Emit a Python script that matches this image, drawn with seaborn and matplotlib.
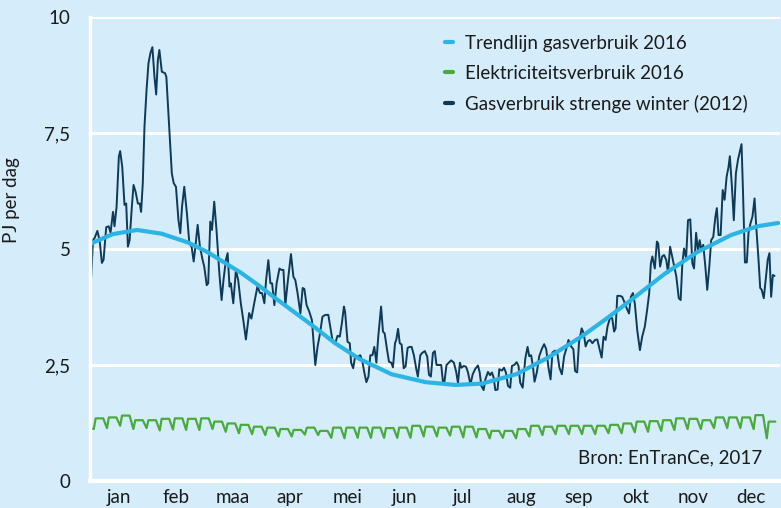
import numpy as np
import pandas as pd
import matplotlib.pyplot as plt
from matplotlib.lines import Line2D
import seaborn as sns

gas_jan = [(0, 3.9), (1.6, 5.19), (2.5, 5.24), (3.9, 5.39), (5.1, 5.19), (6.3, 4.70), (7.2, 4.77), (8.6, 5.47),
           (9.9, 5.49), (10.9, 5.35), (12.2, 5.80), (13.0, 5.49), (14.1, 5.91), (15.3, 6.99), (16.0, 7.11),
           (17.1, 6.77), (18.3, 5.95), (19.2, 5.98), (20.1, 5.05), (21.0, 5.19), (22.2, 5.91), (23.1, 6.38),
           (24.2, 6.23), (25.4, 5.98), (26.4, 5.98), (27.1, 5.80), (28.0, 6.42), (28.9, 7.64), (30.0, 8.43)]
gas_feb = [(31.0, 9.00), (32.1, 9.23), (33.1, 9.35), (34.2, 8.71), (35.1, 8.33), (36.0, 9.07), (36.8, 9.29),
           (38.1, 8.82), (39.8, 8.79), (40.5, 8.71), (42.1, 7.56), (43.4, 6.63), (44.4, 6.42), (45.6, 6.34),
           (46.9, 5.63), (47.9, 5.34), (48.8, 5.91), (50.0, 6.34), (51.4, 5.77), (52.7, 5.12), (53.9, 5.05),
           (55.0, 4.73), (55.9, 5.05), (57.1, 5.52), (58.3, 5.05), (59.7, 4.77)]
gas_maa = [(60.6, 4.62), (61.9, 4.22), (62.7, 4.26), (63.8, 5.59), (64.7, 5.41), (65.9, 6.02), (67.1, 5.41),
           (68.6, 4.48), (69.8, 3.90), (70.8, 4.33), (72.1, 4.77), (73.0, 4.91), (74.0, 4.19), (74.7, 4.26),
           (76.0, 3.83), (77.4, 4.55), (78.6, 4.33), (80.0, 3.83), (81.3, 3.47), (82.7, 3.05), (84.4, 3.62),
           (85.6, 3.50), (87.1, 3.83), (88.8, 4.19), (90.2, 4.05)]
gas_apr = [(91.3, 4.05), (92.5, 3.83), (93.4, 4.33), (94.6, 4.76), (95.7, 4.26), (96.6, 4.26), (97.8, 3.79),
           (99.0, 4.26), (100.5, 4.58), (101.5, 4.55), (102.6, 4.55), (103.6, 3.79), (104.8, 4.26), (106.6, 4.89),
           (107.9, 4.40), (108.9, 4.33), (110.1, 4.05), (111.6, 3.61), (112.8, 4.16), (113.7, 4.14), (114.9, 3.79),
           (116.3, 3.65), (117.7, 3.47), (118.6, 2.97), (119.5, 2.50), (120.7, 2.89)]
gas_mei = [(122.0, 3.18), (123.3, 3.54), (124.8, 3.58), (126.4, 3.58), (127.4, 3.33), (128.6, 3.04), (130.1, 2.97),
           (131.3, 3.13), (132.5, 3.11), (133.6, 3.40), (134.7, 3.76), (135.3, 3.65), (136.6, 3.00), (137.8, 2.97),
           (138.5, 2.55), (139.6, 2.43), (140.6, 2.68), (142.1, 2.68), (143.4, 2.71), (144.5, 2.57), (145.6, 2.32),
           (146.6, 2.13), (147.7, 2.25), (148.7, 2.71), (149.8, 2.71), (150.8, 2.89), (151.9, 2.55)]
gas_jun = [(152.9, 3.11), (154.4, 3.76), (155.4, 3.22), (156.3, 3.18), (157.6, 2.82), (158.6, 2.57), (159.8, 2.55),
           (160.7, 2.45), (161.8, 2.97), (162.5, 3.05), (163.4, 3.28), (164.3, 2.97), (165.3, 2.94), (166.4, 2.43),
           (167.4, 2.47), (168.5, 2.87), (169.6, 2.89), (170.6, 2.89), (171.8, 2.71), (173.0, 2.43), (173.9, 2.25),
           (175.2, 2.71), (176.2, 2.76), (177.6, 2.80), (178.9, 2.68), (179.8, 2.29), (180.8, 2.25), (181.9, 2.76)]
gas_jul = [(182.9, 2.80), (183.8, 2.50), (185.0, 2.50), (186.3, 2.50), (187.2, 2.14), (188.0, 2.14), (189.1, 2.50),
           (190.3, 2.55), (191.6, 2.60), (193.0, 2.55), (194.2, 2.36), (195.2, 2.11), (196.2, 2.55), (197.0, 2.44),
           (198.3, 2.48), (199.5, 2.46), (200.5, 2.34), (201.8, 2.08), (203.0, 2.30), (204.4, 2.42), (205.8, 2.49),
           (206.7, 2.34), (207.6, 2.05), (208.8, 1.96), (209.7, 2.19), (211.1, 2.35), (212.2, 2.28)]
gas_aug = [(213.2, 2.34), (214.1, 2.23), (215.0, 1.96), (216.2, 1.97), (217.1, 2.41), (218.5, 2.38), (219.6, 2.44),
           (220.6, 2.34), (221.7, 2.05), (222.9, 2.01), (223.8, 2.48), (225.0, 2.50), (226.3, 2.56), (227.3, 2.48),
           (228.2, 2.12), (229.5, 2.01), (230.9, 2.64), (232.1, 2.89), (233.0, 2.69), (234.0, 2.71), (234.9, 2.48),
           (235.8, 2.14), (237.0, 2.34), (238.3, 2.69), (239.7, 2.85), (240.9, 2.95), (242.0, 2.84), (243.2, 2.44)]
gas_sep = [(244.3, 2.19), (245.3, 2.77), (246.7, 2.81), (248.0, 2.73), (249.0, 2.44), (250.3, 2.30), (251.5, 2.69),
           (252.6, 2.84), (253.8, 3.04), (255.2, 2.90), (256.4, 2.84), (257.3, 2.37), (258.4, 2.34), (259.4, 2.99),
           (260.8, 3.29), (261.9, 3.18), (262.9, 2.90), (264.0, 3.01), (265.2, 3.04), (266.5, 2.97), (267.9, 3.04),
           (269.1, 3.05), (270.3, 2.84), (271.4, 2.66), (272.4, 3.11), (273.5, 3.04)]
gas_okt = [(274.5, 3.33), (275.8, 3.51), (277.0, 3.51), (278.0, 3.22), (278.8, 3.29), (279.7, 3.99), (281.1, 3.99),
           (282.3, 3.97), (283.8, 3.82), (284.8, 3.71), (285.9, 3.61), (286.9, 3.97), (288.0, 4.05), (289.0, 3.82),
           (290.3, 3.24), (291.7, 2.82), (292.9, 3.11), (294.3, 3.33), (295.5, 3.68), (296.6, 4.04), (297.5, 4.69),
           (298.3, 4.84), (299.6, 4.58), (300.7, 5.16), (301.4, 5.12), (302.4, 4.62), (303.5, 4.84), (304.5, 4.87)]
gas_nov = [(305.7, 4.76), (306.6, 4.48), (307.7, 5.05), (308.8, 4.84), (309.8, 4.66), (311.0, 4.41), (312.3, 3.94),
           (313.3, 3.90), (314.2, 4.69), (315.1, 5.01), (316.2, 4.80), (317.2, 5.62), (318.4, 5.64), (319.5, 4.69),
           (320.4, 4.58), (321.5, 5.35), (322.5, 4.95), (323.4, 5.19), (324.3, 4.98), (325.3, 5.09), (326.4, 4.62),
           (327.4, 4.12), (328.5, 4.62), (329.5, 5.19), (330.6, 5.26), (331.7, 5.69), (332.5, 5.88), (333.4, 5.30),
           (334.5, 5.30)]
gas_dec = [(335.6, 6.27), (336.6, 6.06), (337.7, 6.56), (338.7, 6.77), (339.4, 7.00), (340.5, 6.34), (341.5, 5.62),
           (342.6, 6.63), (343.7, 6.92), (344.5, 7.06), (345.6, 7.26), (346.4, 6.20), (347.4, 4.71), (348.4, 4.71),
           (349.3, 5.35), (350.4, 5.56), (351.4, 5.70), (352.5, 6.09), (353.5, 5.42), (354.6, 4.77), (355.5, 4.16),
           (356.3, 4.12), (357.4, 3.94), (358.5, 4.37), (359.5, 4.77), (360.4, 4.91), (361.3, 3.97), (362.2, 4.44),
           (363.1, 4.42)]

# trendlijn gasverbruik 2016
trend_dag = [0, 12, 25, 38, 52, 62, 70, 80, 90, 97, 108, 118, 130, 143, 160, 178, 194, 208, 226, 243, 261, 274,
             287, 305, 322, 340, 354, 365]
trend_pj = [5.11, 5.32, 5.41, 5.33, 5.14, 4.94, 4.74, 4.49, 4.20, 3.98, 3.65, 3.35, 2.97, 2.63, 2.30, 2.13, 2.07,
            2.10, 2.30, 2.66, 3.12, 3.50, 3.90, 4.47, 4.93, 5.30, 5.49, 5.56]

# elektriciteit 2016: per week het zondagdal en het niveau op werkdagen
elek_dal = [1.12, 1.14, 1.19, 1.12, 1.14, 1.09, 1.11, 1.10, 1.10, 1.12, 1.06, 1.03, 1.01, 0.99, 0.96, 0.96, 1.00,
            0.99, 0.93, 0.92, 0.93, 0.93, 0.93, 0.93, 0.93, 0.96, 0.96, 0.98, 0.94, 0.94, 0.92, 0.93, 0.92, 0.96,
            0.99, 1.01, 1.01, 1.01, 1.01, 1.03, 1.03, 1.05, 1.06, 1.08, 1.10, 1.12, 1.12, 1.14, 1.14, 1.14, 1.12,
            0.92]
elek_top = [1.35, 1.37, 1.41, 1.31, 1.31, 1.34, 1.35, 1.34, 1.35, 1.28, 1.24, 1.21, 1.17, 1.15, 1.12, 1.10, 1.15,
            1.08, 1.15, 1.15, 1.15, 1.15, 1.14, 1.15, 1.19, 1.17, 1.15, 1.17, 1.17, 1.12, 1.08, 1.08, 1.12, 1.19,
            1.17, 1.19, 1.19, 1.19, 1.19, 1.21, 1.24, 1.28, 1.29, 1.31, 1.35, 1.34, 1.31, 1.37, 1.37, 1.37, 1.42,
            1.28]
elek_start = 1.14

maanden = ['jan', 'feb', 'maa', 'apr', 'mei', 'jun', 'jul', 'aug', 'sep', 'okt', 'nov', 'dec']
maand_start = [0, 31, 60, 91, 121, 152, 182, 213, 244, 274, 305, 335, 366]

y_ticks = [0, 2.5, 5, 7.5, 10]
y_labels = ['0', '2,5', '5', '7,5', '10']

bg = '#d5ecfa'
c_trend = '#2bb5e6'
c_elek = '#4aaa3c'
c_gas = '#0c3a58'
c_text = '#1a1a1a'
fs = 13.5

sns.set_style('white')
plt.rcParams['font.family'] = ['Lato', 'DejaVu Sans']
plt.rcParams['font.size'] = fs

gas = pd.DataFrame(gas_jan + gas_feb + gas_maa + gas_apr + gas_mei + gas_jun + gas_jul + gas_aug
                   + gas_sep + gas_okt + gas_nov + gas_dec, columns=['dag', 'pj'])
trend = pd.DataFrame({'dag': trend_dag, 'pj': trend_pj})

# weken lopen van zondag (dal) via maandag-vrijdag (werkdagen) naar de volgende zondag
e_dag, e_pj = [0], [elek_start]
for k, (dal, top) in enumerate(zip(elek_dal, elek_top)):
    zondag = 2 + 7 * k
    e_dag += [zondag, zondag + 1, min(zondag + 5, 363.5)]
    e_pj += [dal, top, top]
elek = pd.DataFrame({'dag': e_dag, 'pj': e_pj})

fig, ax = plt.subplots(figsize=(7.81, 5.08), dpi=100)
fig.patch.set_facecolor(bg)
ax.set_facecolor(bg)
fig.subplots_adjust(left=90 / 781, right=780 / 781, bottom=27 / 508, top=491 / 508)

sns.lineplot(data=gas, x='dag', y='pj', ax=ax, color=c_gas, lw=1.4, estimator=None, sort=False)
sns.lineplot(data=trend, x='dag', y='pj', ax=ax, color=c_trend, lw=3, estimator=None, sort=False)
sns.lineplot(data=elek, x='dag', y='pj', ax=ax, color=c_elek, lw=1.6, estimator=None, sort=False)

ax.set_xlim(0, 366)
ax.set_ylim(0, 10)
ax.set_xlabel('')
ax.set_ylabel('')

ax.yaxis.grid(True, color='white', lw=2.2)
ax.set_axisbelow(True)
for s in ['top', 'right']:
    ax.spines[s].set_visible(False)
ax.spines['left'].set_color('white')
ax.spines['left'].set_linewidth(2.5)
ax.spines['bottom'].set_color('white')
ax.spines['bottom'].set_linewidth(3)

ax.set_yticks(y_ticks)
ax.set_yticklabels(y_labels)
ax.tick_params(axis='y', length=0, pad=14, labelsize=fs, labelcolor=c_text)

ax.set_xticks(maand_start[1:-1])
ax.set_xticklabels([])
ax.set_xticks([(a + b) / 2 for a, b in zip(maand_start[:-1], maand_start[1:])], minor=True)
ax.set_xticklabels(maanden, minor=True)
ax.tick_params(axis='x', which='major', length=5, width=1.6, color='#222222', direction='out')
ax.tick_params(axis='x', which='minor', length=0, pad=6, labelsize=fs, labelcolor=c_text)

handles = [Line2D([], [], color=c_trend, lw=3),
           Line2D([], [], color=c_elek, lw=3),
           Line2D([], [], color=c_gas, lw=3)]
labels = ['Trendlijn gasverbruik 2016', 'Elektriciteitsverbruik 2016', 'Gasverbruik strenge winter (2012)']
ax.legend(handles, labels, loc='upper left', bbox_to_anchor=(0.5145, 0.962), frameon=False,
          borderaxespad=0, borderpad=0, handlelength=0.42, handletextpad=0.62, labelspacing=0.69,
          fontsize=fs, labelcolor=c_text)

ax.text(0.974, 0.039, 'Bron: EnTranCe, 2017', transform=ax.transAxes, ha='right', va='baseline',
        fontsize=fs, color=c_text)
fig.text(12 / 781, 1 - 200 / 508, 'PJ per dag', rotation=90, ha='center', va='center',
         fontsize=fs, color=c_text)

fig.savefig('out.png', dpi=100, facecolor=bg)
